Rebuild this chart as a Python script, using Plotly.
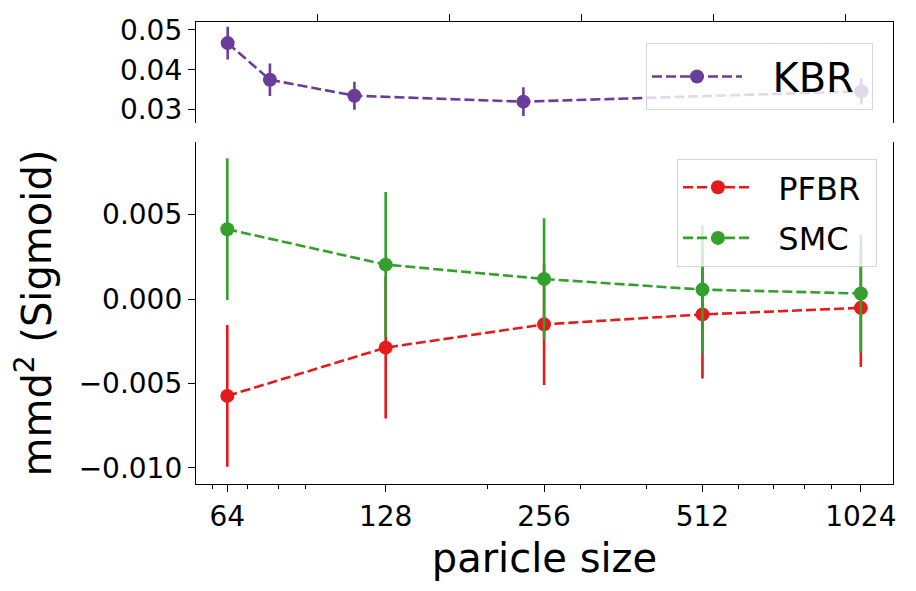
import plotly.graph_objects as go

# ---- data ----
sizes = [64, 128, 256, 512, 1024]
kbr = [0.0467, 0.0375, 0.0335, 0.0320, 0.0346]
kbr_err = [0.0041, 0.0041, 0.0035, 0.0036, 0.0033]
pfbr = [-0.00574, -0.00288, -0.00150, -0.00091, -0.00052]
pfbr_err = [0.0042, 0.0042, 0.0036, 0.0038, 0.0035]
smc = [0.00414, 0.00204, 0.00119, 0.00056, 0.00033]
smc_err = [0.0042, 0.0043, 0.0036, 0.0038, 0.0035]

x_ticks = [64, 128, 256, 512, 1024]
x_tick_text = ["64", "128", "256", "512", "1024"]
x_minor = [60, 70, 80, 90, 200, 300, 400, 600, 700, 800, 900]
top_x_ticks = [200, 400, 600, 800, 1000]
top_y_ticks = [0.03, 0.04, 0.05]
top_y_text = ["0.03", "0.04", "0.05"]
bot_y_ticks = [-0.010, -0.005, 0.0, 0.005]
bot_y_text = ["\u22120.010", "\u22120.005", "0.000", "0.005"]

PURPLE = "#6a3d9a"
RED = "#e41a1c"
GREEN = "#33a02c"
FONT = "DejaVu Sans"
LW = 2.6
DASH = "10px,4px"
MS = 14
NB = "\u00a0"

fig = go.Figure()

fig.add_trace(go.Scatter(
    x=sizes, y=pfbr, name=NB * 2 + "PFBR" + NB, mode="lines+markers",
    line=dict(color=RED, width=LW, dash=DASH),
    marker=dict(color=RED, size=MS),
    error_y=dict(type="data", array=pfbr_err, visible=True, thickness=LW, width=0, color=RED),
    xaxis="x", yaxis="y", legend="legend", legendgroup="pfbr",
))
fig.add_trace(go.Scatter(
    x=sizes, y=smc, name=NB * 2 + "SMC" + NB, mode="lines+markers",
    line=dict(color=GREEN, width=LW, dash=DASH),
    marker=dict(color=GREEN, size=MS),
    error_y=dict(type="data", array=smc_err, visible=True, thickness=LW, width=0, color=GREEN),
    xaxis="x", yaxis="y", legend="legend", legendgroup="smc",
))
fig.add_trace(go.Scatter(
    x=sizes, y=kbr, name=NB * 2 + "KBR" + NB, mode="lines+markers",
    line=dict(color=PURPLE, width=LW, dash=DASH),
    marker=dict(color=PURPLE, size=MS),
    error_y=dict(type="data", array=kbr_err, visible=True, thickness=LW, width=0, color=PURPLE),
    xaxis="x2", yaxis="y2", legend="legend2",
))

axis_common = dict(showgrid=False, zeroline=False, showline=True, linecolor="black",
                   linewidth=1.3, ticks="outside", tickcolor="black", tickwidth=1.3,
                   ticklen=7, tickfont=dict(family=FONT, size=28, color="black"))

fig.update_layout(
    width=916, height=591,
    margin=dict(l=196, r=23, t=22, b=107),
    paper_bgcolor="white", plot_bgcolor="white",
    font=dict(family=FONT, color="black"),
    xaxis=dict(**axis_common, type="log", range=[1.7467, 3.0714],
               tickvals=x_ticks, ticktext=x_tick_text, anchor="y",
               minor=dict(tickvals=x_minor, ticks="outside", ticklen=4,
                          tickwidth=1.0, tickcolor="black"),
               title=dict(text="paricle size", font=dict(family=FONT, size=40, color="black"),
                          standoff=12)),
    yaxis=dict(**axis_common, domain=[0, 0.740], range=[-0.01096, 0.0093], mirror=True,
               tickvals=bot_y_ticks, ticktext=bot_y_text, anchor="x",
               title=dict(text="mmd<sup>2</sup> (Sigmoid)",
                          font=dict(family=FONT, size=40, color="black"), standoff=14)),
    xaxis2=dict(**axis_common, type="linear", range=[16, 1072], side="top",
                tickvals=top_x_ticks, showticklabels=False, anchor="y2"),
    yaxis2=dict(**axis_common, domain=[0.781, 1.0], range=[0.0266, 0.0520], mirror=True,
                tickvals=top_y_ticks, ticktext=top_y_text, anchor="x2"),
    legend=dict(x=0.977, y=0.7035, xanchor="right", yanchor="top",
                bgcolor="rgba(255,255,255,0.8)", bordercolor="rgba(204,204,204,0.8)",
                borderwidth=1, font=dict(family=FONT, size=32, color="black"),
                itemwidth=70, tracegroupgap=6, traceorder="grouped"),
    legend2=dict(x=0.9713, y=0.9545, xanchor="right", yanchor="top",
                 bgcolor="rgba(255,255,255,0.8)", bordercolor="rgba(204,204,204,0.8)",
                 borderwidth=1, font=dict(family=FONT, size=40, color="black"),
                 itemwidth=90),
    showlegend=True,
)

fig.write_html("out.html")
